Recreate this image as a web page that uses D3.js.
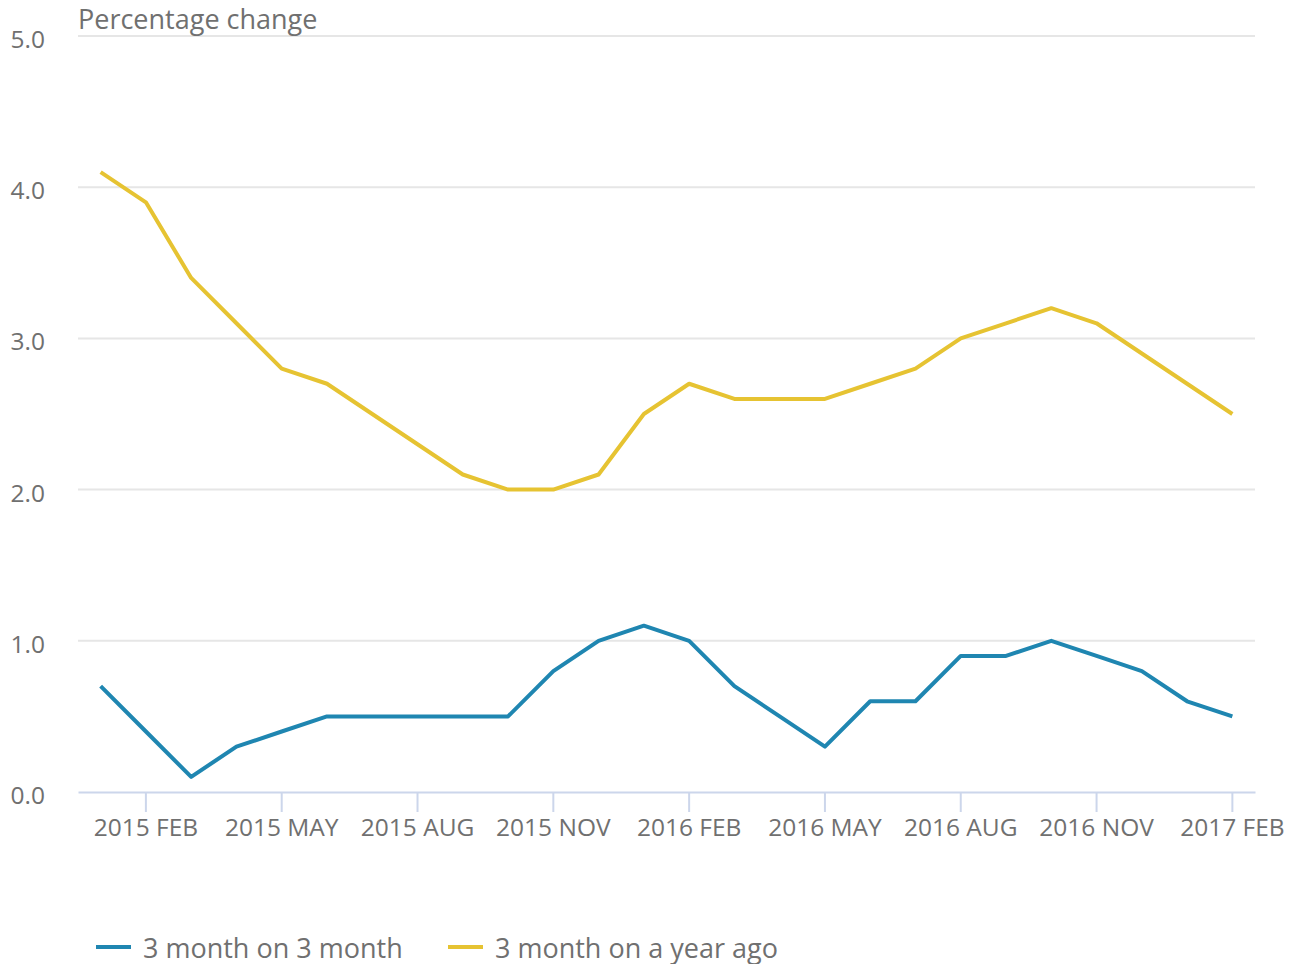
<!DOCTYPE html>
<html>
<head>
<meta charset="utf-8">
<script src="https://cdn.jsdelivr.net/npm/d3@7"></script>
<style>
  body { margin: 0; background: #fff; }
  svg text { font-family: "Open Sans", sans-serif; fill: #707070; }
</style>
</head>
<body>
<div id="chart"></div>
<script>
//monthly periods, 2015 JAN to 2017 FEB
var months = ["2015 JAN","2015 FEB","2015 MAR","2015 APR","2015 MAY","2015 JUN","2015 JUL","2015 AUG","2015 SEP","2015 OCT","2015 NOV","2015 DEC",
  "2016 JAN","2016 FEB","2016 MAR","2016 APR","2016 MAY","2016 JUN","2016 JUL","2016 AUG","2016 SEP","2016 OCT","2016 NOV","2016 DEC",
  "2017 JAN","2017 FEB"];
//labelled months on the x axis
var tickMonths = ["2015 FEB","2015 MAY","2015 AUG","2015 NOV","2016 FEB","2016 MAY","2016 AUG","2016 NOV","2017 FEB"];
var yTicks = [0, 1, 2, 3, 4, 5];

var seriesNames = ["3 month on 3 month", "3 month on a year ago"];
var threeOnThree = [0.7, 0.4, 0.1, 0.3, 0.4, 0.5, 0.5, 0.5, 0.5, 0.5, 0.8, 1.0, 1.1, 1.0, 0.7, 0.5, 0.3, 0.6, 0.6, 0.9, 0.9, 1.0, 0.9, 0.8, 0.6, 0.5];
var yearAgo = [4.1, 3.9, 3.4, 3.1, 2.8, 2.7, 2.5, 2.3, 2.1, 2.0, 2.0, 2.1, 2.5, 2.7, 2.6, 2.6, 2.6, 2.7, 2.8, 3.0, 3.1, 3.2, 3.1, 2.9, 2.7, 2.5];
var colors = ["#1f86b1", "#e6c332"];

var W = 1296, H = 964;
var plotLeft = 78, plotRight = 1255, plotTop = 36, plotBottom = 792;

var svg = d3.select("#chart").append("svg")
  .attr("width", W)
  .attr("height", H);

var x = d3.scaleBand().domain(months).range([plotLeft, plotRight]);
var y = d3.scaleLinear().domain([0, 5]).range([plotBottom, plotTop]);

//gridlines
svg.append("g")
  .selectAll("line")
  .data(yTicks.filter(function(d) { return d > 0; }))
  .enter().append("line")
  .attr("x1", plotLeft).attr("x2", plotRight)
  .attr("y1", function(d) { return y(d); })
  .attr("y2", function(d) { return y(d); })
  .attr("stroke", "#e6e6e6")
  .attr("stroke-width", 2);

//y labels
svg.append("g")
  .selectAll("text")
  .data(yTicks)
  .enter().append("text")
  .attr("x", 45)
  .attr("y", function(d) { return y(d) + 12; })
  .attr("text-anchor", "end")
  .style("font-size", "24.5px")
  .text(function(d) { return d3.format(".1f")(d); });

//y title
svg.append("text")
  .attr("x", 78)
  .attr("y", 29)
  .style("font-size", "27px")
  .text("Percentage change");

//x axis
var xAxis = d3.axisBottom(x)
  .tickValues(tickMonths)
  .tickSize(20)
  .tickPadding(5)
  .tickSizeOuter(0);
var gx = svg.append("g")
  .attr("transform", "translate(0," + plotBottom + ")")
  .call(xAxis);
gx.select(".domain").attr("stroke", "#ccd6eb").attr("stroke-width", 2);
gx.selectAll(".tick line").attr("stroke", "#ccd6eb").attr("stroke-width", 2);
gx.selectAll(".tick text")
  .attr("fill", "#707070")
  .attr("dy", null)
  .attr("y", 44)
  .style("font-size", "24.5px");

//lines
var line = d3.line()
  .x(function(d, i) { return x(months[i]) + x.bandwidth() / 2; })
  .y(function(d) { return y(d); });

[threeOnThree, yearAgo].forEach(function(s, i) {
  svg.append("path")
    .datum(s)
    .attr("fill", "none")
    .attr("stroke", colors[i])
    .attr("stroke-width", 4)
    .attr("stroke-linejoin", "round")
    .attr("d", line);
});

//legend
var legendX = [96, 448];
var leg = svg.append("g").selectAll("g")
  .data(seriesNames)
  .enter().append("g")
  .attr("transform", function(d, i) { return "translate(" + legendX[i] + ",947)"; });
leg.append("line")
  .attr("x1", 0).attr("x2", 35)
  .attr("stroke", function(d, i) { return colors[i]; })
  .attr("stroke-width", 4);
leg.append("text")
  .attr("x", 47)
  .attr("y", 11)
  .style("font-size", "27px")
  .text(function(d) { return d; });
</script>
</body>
</html>
